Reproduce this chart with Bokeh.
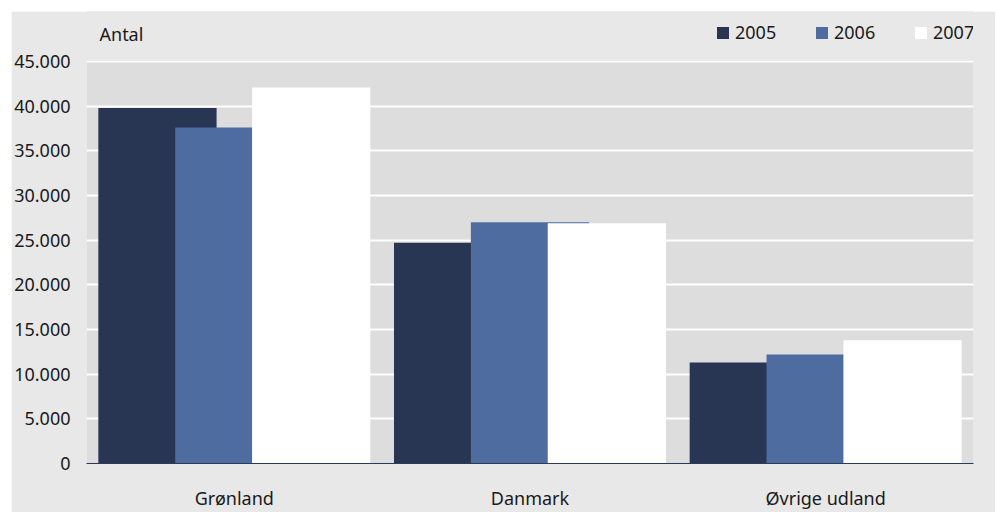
from bokeh.plotting import figure
from bokeh.models import (FactorRange, Range1d, FixedTicker, Legend, LegendItem,
                          Label, Spacer, ColumnDataSource, BoxAnnotation)
from bokeh.transform import dodge
from bokeh.layouts import column, row
from bokeh.embed import file_html
from bokeh.resources import INLINE

categories = ["Grønland", "Danmark", "Øvrige udland"]
years = ["2005", "2006", "2007"]
v2005 = [39800, 24700, 11300]
v2006 = [37600, 27000, 12200]
v2007 = [42100, 26900, 13800]
y_ticks = [0, 5000, 10000, 15000, 20000, 25000, 30000, 35000, 40000, 45000]
y_tick_labels = ["0", "5.000", "10.000", "15.000", "20.000", "25.000",
                 "30.000", "35.000", "40.000", "45.000"]
y_title = "Antal"

colors = ["#283653", "#4e6ca0", "#ffffff"]
FONT = "Noto Sans"
BG_OUT = "#e8e8e8"

y_max = y_ticks[-1]
# frame is extended above the top tick so that legend and title can live inside it
y_end = y_max * 452 / 402

src = ColumnDataSource(dict(cat=categories, y2005=v2005, y2006=v2006, y2007=v2007))

p = figure(x_range=FactorRange(*categories, range_padding=0),
           y_range=Range1d(0, y_end),
           width=984, height=501, output_backend="svg", toolbar_location=None,
           min_border_left=75, min_border_right=22, min_border_top=0, min_border_bottom=49)
p.background_fill_color = "#dddddd"
p.border_fill_color = BG_OUT
p.outline_line_color = None

offsets = [-0.26, 0.0, 0.26]
renderers = []
for yr, col, off in zip(years, colors, offsets):
    r = p.vbar(x=dodge("cat", off, range=p.x_range), top="y" + yr, width=0.4,
               source=src, fill_color=col, line_color=None)
    renderers.append(r)

# grid
p.xgrid.grid_line_color = None
p.ygrid.grid_line_color = "white"
p.ygrid.grid_line_width = 2
p.ygrid.ticker = FixedTicker(ticks=y_ticks)

# cover the extended area above the plot with the outer colour
p.add_layout(BoxAnnotation(bottom=y_max * 1.0029, fill_color=BG_OUT, fill_alpha=1,
                           line_color=None, level="underlay"))

# y axis
p.yaxis.ticker = FixedTicker(ticks=y_ticks)
p.yaxis.major_label_overrides = {t: l for t, l in zip(y_ticks, y_tick_labels)}
p.yaxis.axis_line_color = None
p.yaxis.major_tick_line_color = None
p.yaxis.minor_tick_line_color = None
p.yaxis.major_tick_out = 0
p.yaxis.major_tick_in = 0
p.yaxis.minor_tick_out = 0
p.yaxis.major_label_standoff = 16
p.yaxis.major_label_text_font = FONT
p.yaxis.major_label_text_font_size = "18px"
p.yaxis.major_label_text_color = "#1a1a1a"

# x axis
p.xaxis.axis_line_color = "#2b3a5a"
p.xaxis.axis_line_width = 1
p.xaxis.major_tick_line_color = None
p.xaxis.minor_tick_line_color = None
p.xaxis.major_tick_out = 0
p.xaxis.major_tick_in = 0
p.xaxis.minor_tick_out = 0
p.xaxis.major_label_standoff = 22
p.xaxis.major_label_text_font = FONT
p.xaxis.major_label_text_font_size = "18px"
p.xaxis.major_label_text_color = "#1a1a1a"

# legend
legend = Legend(items=[LegendItem(label=yr, renderers=[r]) for yr, r in zip(years, renderers)],
                orientation="horizontal", location=(629, 419),
                glyph_width=15, glyph_height=15, label_standoff=5,
                label_width=44, label_height=15, spacing=35,
                padding=0, margin=0, border_line_color=None,
                background_fill_alpha=0,
                label_text_font=FONT, label_text_font_size="18px",
                label_text_color="#1a1a1a")
p.add_layout(legend, "center")

p.add_layout(Label(x=13, y=430, x_units="screen", y_units="screen", text=y_title,
                   text_font=FONT, text_font_size="18px", text_color="#1a1a1a",
                   text_baseline="alphabetic"))

layout = column(Spacer(height=11), row(Spacer(width=11), p))
open("out.html", "w").write(file_html(layout, INLINE))
